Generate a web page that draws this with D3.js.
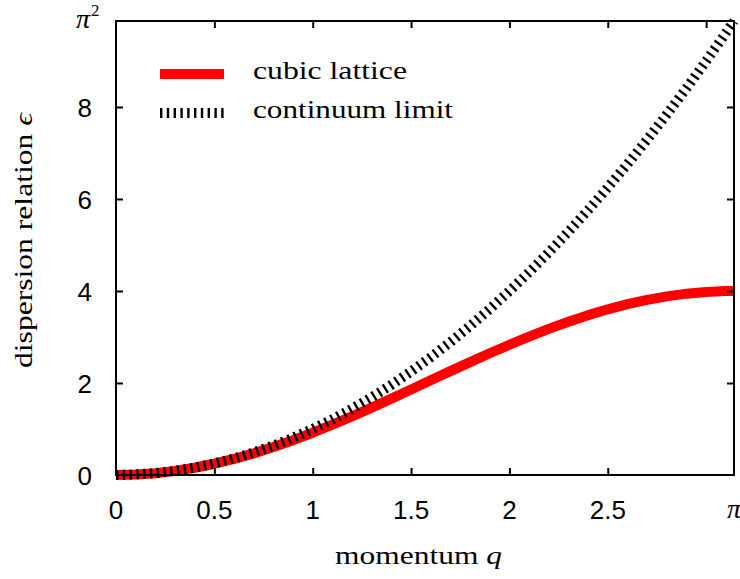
<!DOCTYPE html>
<html>
<head>
<meta charset="utf-8">
<script src="https://cdn.jsdelivr.net/npm/d3@7"></script>
<style>
  html, body { margin: 0; padding: 0; background: #fff; }
  svg { display: block; }
  .tick-label { font-family: "Liberation Sans", Arial, Helvetica, sans-serif; font-size: 26px; fill: #000; }
  .serif { font-family: "Liberation Serif", "DejaVu Serif", serif; fill: #000; }
</style>
</head>
<body>
<svg id="chart" width="740" height="579"></svg>
<script>
// Momentum samples (q) and the two dispersion curves epsilon(q)
const momentum = [0, 0.1, 0.2, 0.3, 0.4, 0.5, 0.6, 0.7, 0.8, 0.9, 1.0, 1.1, 1.2, 1.3, 1.4, 1.5,
  1.6, 1.7, 1.8, 1.9, 2.0, 2.1, 2.2, 2.3, 2.4, 2.5, 2.6, 2.7, 2.8, 2.9, 3.0, 3.1, 3.14159];
const cubicLattice = [0, 0.01, 0.04, 0.089, 0.158, 0.245, 0.349, 0.47, 0.607, 0.757, 0.919, 1.093,
  1.275, 1.465, 1.66, 1.859, 2.058, 2.258, 2.454, 2.647, 2.832, 3.01, 3.177, 3.333, 3.475, 3.602,
  3.714, 3.808, 3.884, 3.942, 3.98, 3.998, 4.0];
const continuumLimit = [0, 0.01, 0.04, 0.09, 0.16, 0.25, 0.36, 0.49, 0.64, 0.81, 1.0, 1.21, 1.44,
  1.69, 1.96, 2.25, 2.56, 2.89, 3.24, 3.61, 4.0, 4.41, 4.84, 5.29, 5.76, 6.25, 6.76, 7.29, 7.84,
  8.41, 9.0, 9.61, 9.8696];

// Axis ticks
const xTickValues = [0, 0.5, 1, 1.5, 2, 2.5];
const xTickLabels = ["0", "0.5", "1", "1.5", "2", "2.5"];
const xTopTicks = [0.5, 1, 1.5, 2, 2.5, 3];
const yTickValues = [0, 2, 4, 6, 8];
const yTickLabels = ["0", "2", "4", "6", "8"];
const X_MAX = Math.PI;
const Y_MAX = Math.PI * Math.PI;

const svg = d3.select("#chart");
const frame = { left: 116, right: 734, top: 21, bottom: 475 };

const x = d3.scaleLinear().domain([0, X_MAX]).range([frame.left, frame.right]);
const y = d3.scaleLinear().domain([0, Y_MAX]).range([frame.bottom, frame.top]);

const seriesPoints = vals => momentum.map((q, i) => [q, vals[i]]);
const line = d3.line().x(d => x(d[0])).y(d => y(d[1])).curve(d3.curveLinear);

// Curves: lattice (solid red) beneath the continuum limit (thick dashed black)
svg.append("path")
  .datum(seriesPoints(cubicLattice))
  .attr("d", line)
  .attr("fill", "none")
  .attr("stroke", "#ff0000")
  .attr("stroke-width", 10)
  .attr("stroke-linejoin", "round");

svg.append("path")
  .datum(seriesPoints(continuumLimit))
  .attr("d", line)
  .attr("fill", "none")
  .attr("stroke", "#000")
  .attr("stroke-width", 10)
  .attr("stroke-dasharray", "2.4 4.4");

// Inward ticks via d3 axes
const tickLen = 7;
const bottomAxis = d3.axisTop(x).tickValues(xTickValues.filter(v => v > 0)).tickSize(tickLen).tickFormat("");
svg.append("g").attr("transform", `translate(0,${frame.bottom})`).call(bottomAxis);
const topAxis = d3.axisBottom(x).tickValues(xTopTicks).tickSize(tickLen).tickFormat("");
svg.append("g").attr("transform", `translate(0,${frame.top})`).call(topAxis);
const leftAxis = d3.axisRight(y).tickValues(yTickValues.filter(v => v > 0)).tickSize(tickLen).tickFormat("");
svg.append("g").attr("transform", `translate(${frame.left},0)`).call(leftAxis);
const rightAxis = d3.axisLeft(y).tickValues(yTickValues.filter(v => v > 0)).tickSize(tickLen).tickFormat("");
svg.append("g").attr("transform", `translate(${frame.right},0)`).call(rightAxis);
svg.selectAll(".domain").remove();
svg.selectAll(".tick line").attr("stroke", "#000").attr("stroke-width", 2);

// Frame
svg.append("rect")
  .attr("x", frame.left).attr("y", frame.top)
  .attr("width", frame.right - frame.left).attr("height", frame.bottom - frame.top)
  .attr("fill", "none").attr("stroke", "#000").attr("stroke-width", 2);

// Tick labels
svg.append("g").selectAll("text").data(xTickValues).join("text")
  .attr("class", "tick-label")
  .attr("x", d => x(d)).attr("y", 519)
  .attr("text-anchor", "middle")
  .text((d, i) => xTickLabels[i]);
svg.append("text").attr("class", "serif")
  .attr("x", x(X_MAX)).attr("y", 518)
  .attr("text-anchor", "middle")
  .attr("font-size", 28).attr("font-style", "italic")
  .text("π");

svg.append("g").selectAll("text").data(yTickValues).join("text")
  .attr("class", "tick-label")
  .attr("x", 92).attr("y", d => y(d) + 9.5)
  .attr("text-anchor", "end")
  .text((d, i) => yTickLabels[i]);
const piSq = svg.append("text").attr("class", "serif")
  .attr("x", 76).attr("y", 28).attr("font-size", 28);
piSq.append("tspan").attr("font-style", "italic").text("π");
piSq.append("tspan").attr("font-size", 17).attr("dx", 1).attr("dy", -12).text("2");

// Axis titles (stretched to the width of the wide serif face)
const xTitle = svg.append("text").attr("class", "serif")
  .attr("x", 335).attr("y", 564).attr("font-size", 26)
  .attr("textLength", 167).attr("lengthAdjust", "spacingAndGlyphs");
xTitle.append("tspan").text("momentum ");
xTitle.append("tspan").attr("font-style", "italic").text("q");

const yTitle = svg.append("text").attr("class", "serif")
  .attr("transform", "translate(32,368) rotate(-90)")
  .attr("font-size", 26)
  .attr("textLength", 255).attr("lengthAdjust", "spacingAndGlyphs");
yTitle.append("tspan").text("dispersion relation ");
yTitle.append("tspan").attr("font-style", "italic").text("ϵ");

// Legend
const legend = [
  { label: "cubic lattice", color: "#ff0000", dash: null, y: 74, width: 154 },
  { label: "continuum limit", color: "#000", dash: "2.4 4.4", y: 113, width: 200 }
];
legend.forEach(item => {
  svg.append("line")
    .attr("x1", 160).attr("x2", 224)
    .attr("y1", item.y).attr("y2", item.y)
    .attr("stroke", item.color).attr("stroke-width", 10)
    .attr("stroke-dasharray", item.dash);
  svg.append("text").attr("class", "serif")
    .attr("x", 253).attr("y", item.y + 5)
    .attr("font-size", 26)
    .attr("textLength", item.width).attr("lengthAdjust", "spacingAndGlyphs")
    .text(item.label);
});
</script>
</body>
</html>
